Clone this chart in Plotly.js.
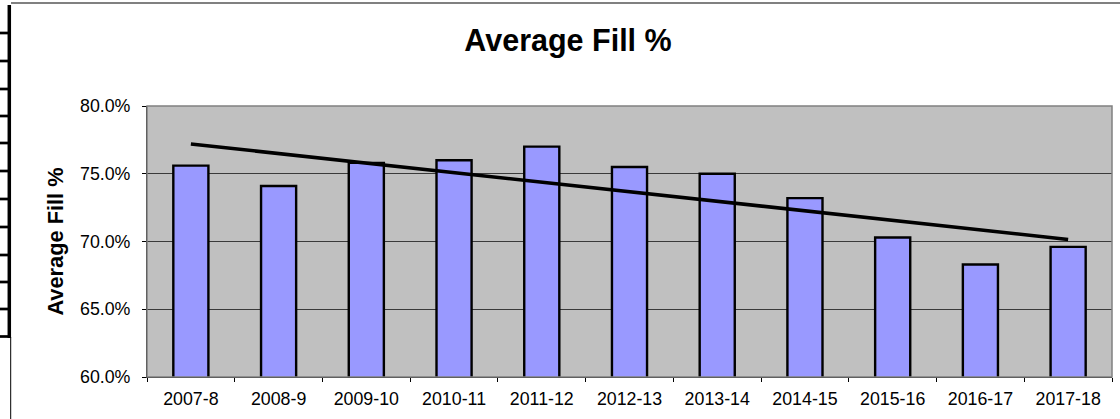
<!DOCTYPE html>
<html>
<head>
<meta charset="utf-8">
<script src="https://cdn.plot.ly/plotly-3.0.1.min.js"></script>
<style>
html,body{margin:0;padding:0;background:#fff;}
#chart{width:1120px;height:419px;}
</style>
</head>
<body>
<div id="chart"></div>
<script>
// ---- data ----
const seasons = ["2007-8","2008-9","2009-10","2010-11","2011-12","2012-13","2013-14","2014-15","2015-16","2016-17","2017-18"];
const avgFill = [0.756, 0.741, 0.758, 0.760, 0.770, 0.755, 0.750, 0.732, 0.703, 0.683, 0.696];
const trendSeasons = ["2007-8", "2017-18"];
const trendValues = [0.772, 0.7015];
const yTicks = [0.60, 0.65, 0.70, 0.75, 0.80];

// ---- layout geometry (pixels) ----
const W = 1120, H = 419;
const L = 147, R = 1112, T = 106, B = 377;
const px = x => (x - L) / (R - L);
const py = y => (B - y) / (B - T);

const shapes = [];
// plot area border (gray)
shapes.push({type:'rect', xref:'paper', yref:'paper', x0:0, x1:1, y0:0, y1:1,
  line:{color:'#808080', width:1.5}, layer:'above'});
// top gray frame line
shapes.push({type:'line', xref:'paper', yref:'paper', x0:px(11), x1:px(1120), y0:py(3), y1:py(3),
  line:{color:'#808080', width:2}});
// left thick black frame line
shapes.push({type:'line', xref:'paper', yref:'paper', x0:px(9.3), x1:px(9.3), y0:py(5), y1:py(338),
  line:{color:'#000', width:3.5}});
// thin continuation
shapes.push({type:'line', xref:'paper', yref:'paper', x0:px(10.7), x1:px(10.7), y0:py(337), y1:py(419),
  line:{color:'#000', width:1}});
// row marks on left edge
[33, 61, 89, 116, 143, 171, 199, 227, 255, 282, 309, 336.5].forEach(y => {
  shapes.push({type:'line', xref:'paper', yref:'paper', x0:px(0), x1:px(10), y0:py(y), y1:py(y),
    line:{color:'#000', width:2.7}});
});

const font = "Liberation Sans, Arial, Helvetica, sans-serif";

const traces = [
  {
    type:'bar', x:seasons, y:avgFill, width:0.4,
    marker:{color:'#9999ff', line:{color:'#000', width:2.4}},
    hoverinfo:'x+y', showlegend:false
  },
  {
    type:'scatter', mode:'lines', x:trendSeasons, y:trendValues,
    line:{color:'#000', width:3.6}, showlegend:false, hoverinfo:'skip'
  }
];

const layout = {
  width:W, height:H,
  margin:{l:L, r:W-R, t:T, b:H-B, pad:0},
  paper_bgcolor:'#fff', plot_bgcolor:'#c0c0c0',
  font:{family:font, color:'#000'},
  title:{text:'<b>Average Fill %</b>', font:{family:font, size:30.5, color:'#000'},
    x:568/W, xref:'container', xanchor:'center', y:1-40/H, yref:'container', yanchor:'middle'},
  showlegend:false,
  bargap:0.6,
  xaxis:{
    type:'category', tickson:'boundaries', ticks:'outside', ticklen:4, tickwidth:1, tickcolor:'#000',
    showline:true, linecolor:'#000', linewidth:1, showgrid:false, zeroline:false,
    tickfont:{family:font, size:17.8, color:'#000'}, ticklabelstandoff:6,
    range:[-0.5, seasons.length-0.5], fixedrange:true
  },
  yaxis:{
    range:[0.6, 0.8], tickvals:yTicks, tickformat:'.1%',
    ticks:'outside', ticklen:4, tickwidth:1, tickcolor:'#000',
    showline:true, linecolor:'#000', linewidth:1,
    showgrid:true, gridcolor:'#3a3a3a', gridwidth:1, zeroline:false,
    tickfont:{family:font, size:17.8, color:'#000'}, ticklabelstandoff:8,
    title:{text:'<b>Average Fill %</b>', font:{family:font, size:21.8, color:'#000'}, standoff:10},
    fixedrange:true
  },
  shapes:shapes
};

Plotly.newPlot('chart', traces, layout, {displayModeBar:false, staticPlot:true});
</script>
</body>
</html>
